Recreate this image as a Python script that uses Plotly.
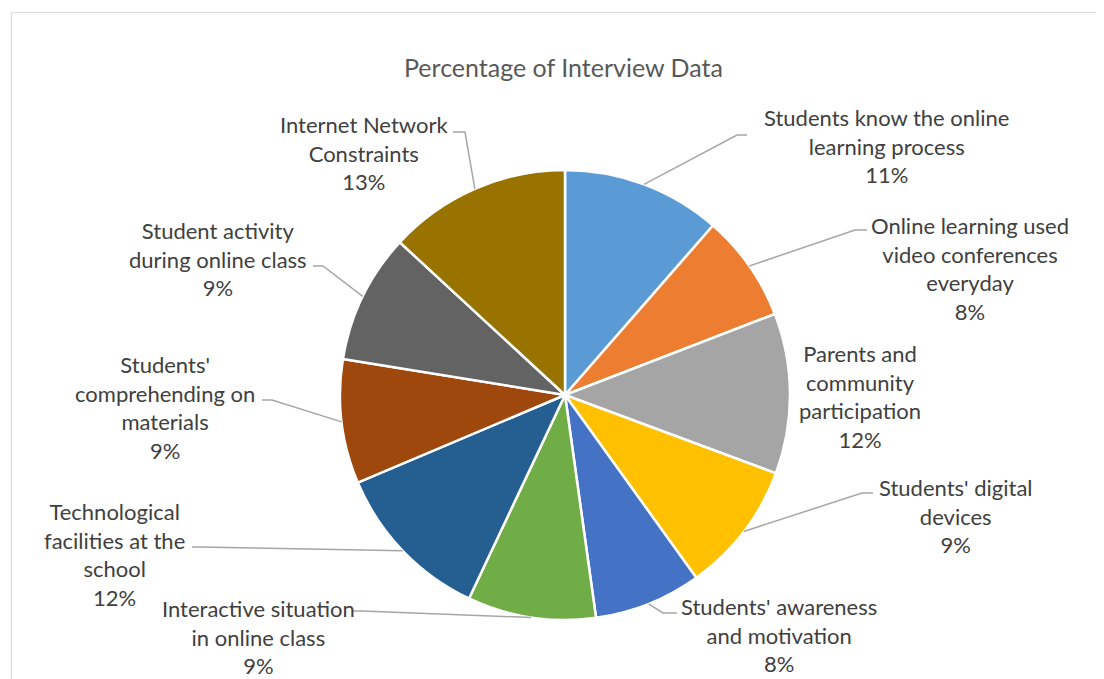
import math
import plotly.graph_objects as go

# The page body has an 8px margin, so the figure is sized to the visible area
OX, OY = 8, 8
W, H = 1104 - OX, 679 - OY

# ---- data ----
categories = [
    "Students know the online learning process",
    "Online learning used video conferences everyday",
    "Parents and community participation",
    "Students' digital devices",
    "Students' awareness and motivation",
    "Interactive situation in online class",
    "Technological facilities at the school",
    "Students' comprehending on materials",
    "Student activity during online class",
    "Internet Network Constraints",
]
values = [11.4, 7.7, 11.5, 9.4, 7.7, 9.2, 11.6, 8.9, 9.3, 13.1]
wrapped_names = [
    "Students know the online<br>learning process",
    "Online learning used<br>video conferences<br>everyday",
    "Parents and<br>community<br>participation",
    "Students' digital<br>devices",
    "Students' awareness<br>and motivation",
    "Interactive situation<br>in online class",
    "Technological<br>facilities at the<br>school",
    "Students'<br>comprehending on<br>materials",
    "Student activity<br>during online class",
    "Internet Network<br>Constraints",
]
colors = ["#5B9BD5", "#ED7D31", "#A5A5A5", "#FFC000", "#4472C4",
          "#70AD47", "#255E91", "#9E480E", "#636363", "#997300"]
title = "Percentage of Interview Data"

# ---- layout (screen-pixel placement of labels / leader lines) ----
CX, CY, R = 565, 395, 225
label_pos = [(886, 146), (970, 268), (860, 396), (956, 516), (779, 635),
             (258, 637), (114, 554), (165, 407), (218, 259), (364, 153)]
leader_pts = [
    [(737, 135), (747, 135)],
    [(855, 230), (867, 230)],
    None,
    [(862, 493), (873, 493)],
    [(663, 613), (677, 613)],
    [(362, 611), (353, 611)],
    [(200, 547), (192, 547)],
    [(272, 400), (262, 400)],
    [(323, 266), (313, 266)],
    [(465, 132), (453, 132)],
]

FONT = "Lato"
px = lambda x: (x - OX) / W
py = lambda y: 1 - (y - OY) / H

fig = go.Figure(go.Pie(
    labels=categories, values=values, sort=False, direction="clockwise",
    rotation=0, textinfo="none", hoverinfo="label+percent",
    marker=dict(colors=colors, line=dict(color="white", width=2.5)),
    domain=dict(x=[px(CX - R), px(CX + R)], y=[py(CY + R), py(CY - R)]),
    showlegend=False,
))

annotations = [dict(text=title, x=px(563), y=py(67), xref="paper", yref="paper",
                    showarrow=False, xanchor="center", yanchor="middle",
                    font=dict(family=FONT, size=25, color="#595959"))]
shapes = [dict(type="rect", xref="paper", yref="paper", x0=px(11.5), y0=py(700),
               x1=px(1120), y1=py(12.5), line=dict(color="#D9D9D9", width=1.2))]

total = sum(values)
cum = 0.0
for i, v in enumerate(values):
    mid = (cum + v / 2) / total * 2 * math.pi
    cum += v
    pct = f"{round(v / total * 100)}%"
    lx, ly = label_pos[i]
    annotations.append(dict(
        text=f"{wrapped_names[i]}<br>{pct}", x=px(lx), y=py(ly),
        xref="paper", yref="paper", showarrow=False, align="center",
        xanchor="center", yanchor="middle",
        font=dict(family=FONT, size=22, color="#404040")))
    if leader_pts[i] is not None:
        ex = CX + R * math.sin(mid)
        ey = CY - R * math.cos(mid)
        pts = [(ex, ey)] + leader_pts[i]
        path = "M " + " L ".join(f"{px(a)},{py(b)}" for a, b in pts)
        shapes.append(dict(type="path", path=path, xref="paper", yref="paper",
                           line=dict(color="#A6A6A6", width=1.5)))

fig.update_layout(width=W, height=H, margin=dict(l=0, r=0, t=0, b=0),
                  paper_bgcolor="white", plot_bgcolor="white",
                  annotations=annotations, shapes=shapes)
fig.write_html("out.html")
